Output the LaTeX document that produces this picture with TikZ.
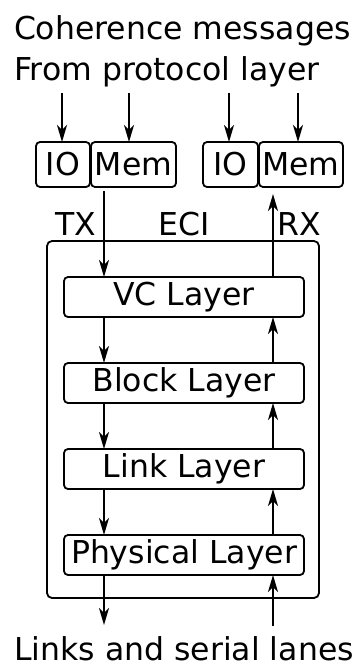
\documentclass[tikz,border=0pt]{standalone}
\usepackage{fontspec}
\setmainfont{DejaVu Sans}
\usetikzlibrary{arrows.meta,positioning}

\begin{document}
\begin{tikzpicture}[x=1pt,y=1pt,>={Stealth[length=17pt,width=10pt,inset=5pt]},line width=1.8pt,
  every node/.style={font=\fontsize{31.5}{41}\selectfont,inner sep=0pt,outer sep=0pt},
  queue/.style={draw,rounded corners=4pt,minimum height=45pt},
  layer/.style={draw,rounded corners=4pt,minimum width=240pt,minimum height=40pt}]
  \useasboundingbox (0,0) rectangle (356,-666);
  % Header
  \node[anchor=base west] (head1) at (14,-40) {Coherence messages};
  \node[anchor=base west] (head2) at (14,-81) {From protocol layer};
  % TX and RX queues
  \node[queue,minimum width=54pt] (io1) at (63,-164.5) {IO};
  \node[queue,minimum width=85pt] (mem1) at (133.5,-164.5) {Mem};
  \node[queue,minimum width=55pt] (io2) at (230.5,-164.5) {IO};
  \node[queue,minimum width=84pt] (mem2) at (301,-164.5) {Mem};
  % ECI frame with labels
  \node[draw,rounded corners=5pt,minimum width=272pt,minimum height=357pt] (eci) at (183,-419.5) {};
  \node[anchor=base] (tx) at (76,-235) {TX};
  \node[anchor=base] (ecilabel) at (184,-235) {ECI};
  \node[anchor=base] (rx) at (299.5,-235) {RX};
  % Layer stack
  \node[layer] (vc) at (184,-297) {VC Layer};
  \node[layer,below=46pt of vc] (block) {Block Layer};
  \node[layer,below=46pt of block] (link) {Link Layer};
  \node[layer,below=46pt of link] (phys) {Physical Layer};
  % Footer
  \node[anchor=base] (foot) at (184,-660) {Links and serial lanes};
  % Messages into the queues
  \coordinate (in1) at (62,-93);
  \coordinate (in2) at (129,-93);
  \coordinate (in3) at (229,-93);
  \coordinate (in4) at (298,-93);
  \foreach \c/\q in {in1/io1,in2/mem1,in3/io2,in4/mem2}
    \draw[->] (\c) -- (\c |- \q.north);
  % TX goes down, RX goes up
  \coordinate (txstart) at (104,-191);
  \coordinate (txout) at (104,-625);
  \coordinate (rxin) at (273,-626);
  \coordinate (rxend) at (273,-194);
  \draw[->] (txstart) -- (txstart |- vc.north);
  \draw[->] (rxin |- vc.north) -- (rxend);
  \foreach \a/\b in {vc/block,block/link,link/phys}{
    \draw[->] (txout |- \a.south) -- (txout |- \b.north);
    \draw[->] (rxin |- \b.north) -- (rxin |- \a.south);
  }
  \draw[->] (txout |- phys.south) -- (txout);
  \draw[->] (rxin) -- (rxin |- phys.south);
\end{tikzpicture}
\end{document}
